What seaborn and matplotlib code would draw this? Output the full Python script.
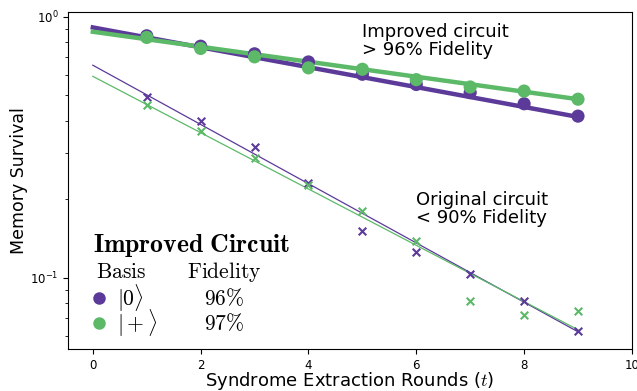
import numpy as np
import pandas as pd
import matplotlib
matplotlib.use("Agg")
import matplotlib.pyplot as plt
import seaborn as sns

# Syndrome extraction rounds
rounds = [1, 2, 3, 4, 5, 6, 7, 8, 9]

# Improved circuit, measured survival
improved_zero = [0.845, 0.771, 0.721, 0.671, 0.602, 0.550, 0.512, 0.464, 0.416]
improved_plus = [0.833, 0.756, 0.702, 0.637, 0.629, 0.574, 0.538, 0.519, 0.483]

# Original circuit, measured survival
original_zero = [0.492, 0.400, 0.316, 0.231, 0.151, 0.126, 0.103, 0.0813, 0.0624]
original_plus = [0.4575, 0.3635, 0.288, 0.2266, 0.180, 0.138, 0.0813, 0.0717, 0.0744]

# Exponential fits: survival = amplitude * decay**t
fit_amp_improved = [0.910, 0.876]
fit_decay_improved = [0.916, 0.936]
fit_amp_original = [0.652, 0.591]
fit_decay_original = [0.770, 0.780]

basis_labels = [r"$|0\rangle$", r"$|+\rangle$"]
colors = ["#5b3a9a", "#5cb968"]

plt.rcParams["mathtext.fontset"] = "cm"

fig = plt.figure(figsize=(6.37, 3.91), dpi=100)
ax = fig.add_axes([0.1068, 0.1074, 0.8852, 0.862])

t_fit = np.linspace(0, 9, 50)

for i, (imp, orig) in enumerate([(improved_zero, original_zero),
                                 (improved_plus, original_plus)]):
    c = colors[i]
    fit_imp = pd.DataFrame({"t": t_fit,
                            "y": fit_amp_improved[i] * fit_decay_improved[i] ** t_fit})
    fit_orig = pd.DataFrame({"t": t_fit,
                             "y": fit_amp_original[i] * fit_decay_original[i] ** t_fit})
    sns.lineplot(data=fit_imp, x="t", y="y", ax=ax, color=c, lw=3.2, zorder=3)
    sns.lineplot(data=fit_orig, x="t", y="y", ax=ax, color=c, lw=0.9, zorder=3)
    sns.scatterplot(x=rounds, y=imp, ax=ax, color=c, s=90, marker="o",
                    edgecolor="none", zorder=4)
    sns.scatterplot(x=rounds, y=orig, ax=ax, color=c, s=30, marker="x",
                    linewidth=1.5, zorder=4)

ax.set_yscale("log")
ax.set_xlim(-0.46, 10)
ax.set_ylim(0.0533, 1.043)
ax.set_xticks([0, 2, 4, 6, 8, 10])
ax.tick_params(labelsize=8.5)
ax.set_xlabel(r"Syndrome Extraction Rounds ($t$)", fontsize=13, labelpad=-1)
ax.set_ylabel("Memory Survival", fontsize=12.5, labelpad=1)

ax.text(0.521, 0.967, "Improved circuit\n> 96% Fidelity", transform=ax.transAxes,
        fontsize=13, va="top", ha="left", linespacing=1.0)
ax.text(0.617, 0.470, "Original circuit\n< 90% Fidelity", transform=ax.transAxes,
        fontsize=13, va="top", ha="left", linespacing=1.0)

# Fidelity table for the improved circuit
ax.text(0.044, 0.306, r"$\mathbf{Improved\ Circuit}$", transform=ax.transAxes,
        fontsize=18.5, va="center", ha="left")
ax.text(0.049, 0.228, r"$\mathrm{Basis}$", transform=ax.transAxes,
        fontsize=15.5, va="center", ha="left")
ax.text(0.211, 0.228, r"$\mathrm{Fidelity}$", transform=ax.transAxes,
        fontsize=15.5, va="center", ha="left")
for i, yf in enumerate([0.152, 0.077]):
    ax.plot([0.055], [yf], "o", color=colors[i], ms=9, mec="none",
            transform=ax.transAxes, clip_on=False)
    ax.text(0.087, yf, basis_labels[i], transform=ax.transAxes,
            fontsize=15.5, va="center", ha="left")
    fidelity = (1 + fit_decay_improved[i]) / 2 * 100
    ax.text(0.241, yf, rf"${fidelity:.0f}\%$", transform=ax.transAxes,
            fontsize=15.5, va="center", ha="left")

fig.savefig("out.png", dpi=100)
